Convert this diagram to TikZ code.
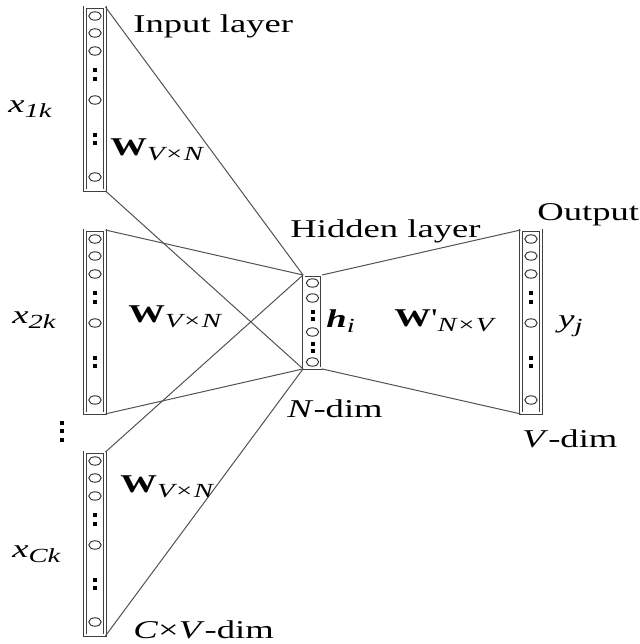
\documentclass[tikz,border=0pt]{standalone}
\usepackage{fontspec}
\setmainfont{Liberation Serif}
\usepackage{graphicx}
\usetikzlibrary{shapes.geometric}

\newcommand{\wide}[1]{\scalebox{1.43}[1]{#1}}
\newcommand{\lowsub}[1]{\raisebox{-2.5pt}{\fontsize{10}{11}\selectfont\itshape #1}}

\begin{document}
\begin{tikzpicture}[x=0.5pt, y=-0.5pt,
  layerbox/.style={draw=black!75, double, double distance=1pt, line width=0.45pt,
    minimum width=10pt, inner sep=0pt},
  unit/.style={ellipse, draw=black!85, line width=0.45pt, minimum width=6.2pt,
    minimum height=4.2pt, inner sep=0pt},
  dotsq/.style={fill=black, minimum width=2pt, minimum height=1.8pt, inner sep=0pt},
  conn/.style={draw=black!68, line width=0.5pt},
  lbl/.style={anchor=base west, inner sep=0pt, font=\fontsize{12.8}{15}\selectfont}]

  \useasboundingbox (0,0) rectangle (639,644);

  % input layers
  \foreach \n/\yt in {1/7, 2/230, 3/452} {
    \node[layerbox, minimum height=91.5pt, anchor=north] (in\n) at (95,\yt) {};
    \foreach \o [count=\k] in {9,26,44,93,170}
      \node[unit] (in\n-c\k) at (95,{\yt+\o}) {};
    \foreach \o [count=\k] in {63,72,128,136}
      \node[dotsq] (in\n-d\k) at (95,{\yt+\o}) {};
  }

  % hidden layer
  \node[layerbox, minimum width=9pt, minimum height=46.5pt, anchor=north] (hid) at (312.5,275) {};
  \foreach \o [count=\k] in {8,23,57,87}
    \node[unit] (hid-c\k) at (312.5,{275+\o}) {};
  \foreach \o [count=\k] in {37,44,69,76}
    \node[dotsq] (hid-d\k) at (312.5,{275+\o}) {};

  % output layer
  \node[layerbox, minimum height=91.5pt, anchor=north] (out) at (531,230) {};
  \foreach \o [count=\k] in {9,26,44,93,170}
    \node[unit] (out-c\k) at (531,{230+\o}) {};
  \foreach \o [count=\k] in {63,72,128,136}
    \node[dotsq] (out-d\k) at (531,{230+\o}) {};

  % dots between the input layers
  \foreach \o [count=\k] in {423,431,440}
    \node[dotsq, minimum width=2.2pt, minimum height=2.2pt] (vd\k) at (62,\o) {};

  % weights
  \foreach \n in {1,2,3} {
    \draw[conn] (in\n.north east) -- (hid.north west);
    \draw[conn] (in\n.south east) -- (hid.south west);
  }
  \draw[conn] (hid.north east) -- (out.north west);
  \draw[conn] (hid.south east) -- (out.south west);

  % labels
  \node[lbl] (tin) at (133,32) {\wide{Input layer}};
  \node[lbl] (tx1) at (8,112) {\wide{\textit{x}\lowsub{1k}}};
  \node[lbl] (tw1) at (110,155) {\wide{\textbf{W}\lowsub{V×N}}};
  \node[lbl] (tx2) at (12,323) {\wide{\textit{x}\lowsub{2k}}};
  \node[lbl] (tw2) at (128,322) {\wide{\textbf{W}\lowsub{V×N}}};
  \node[lbl] (tx3) at (12,557) {\wide{\textit{x}\lowsub{Ck}}};
  \node[lbl] (tw3) at (120,492) {\wide{\textbf{W}\lowsub{V×N}}};
  \node[lbl] (tcv) at (133,638) {\wide{\textit{C}×\textit{V}-dim}};
  \node[lbl] (thid) at (290,237) {\wide{Hidden layer}};
  \node[lbl] (th) at (326,327) {\wide{\textbf{\textit{h}}\lowsub{i}}};
  \node[lbl] (tw4) at (394,326) {\wide{\textbf{W}\textquotesingle\lowsub{N×V}}};
  \node[lbl] (tnd) at (287,417) {\wide{\textit{N}-dim}};
  \node[lbl] (tout) at (537,220) {\wide{Output}};
  \node[lbl] (ty) at (558,327) {\wide{\textit{y}\lowsub{j}}};
  \node[lbl] (tvd) at (522,447) {\wide{\textit{V}-dim}};
\end{tikzpicture}
\end{document}
